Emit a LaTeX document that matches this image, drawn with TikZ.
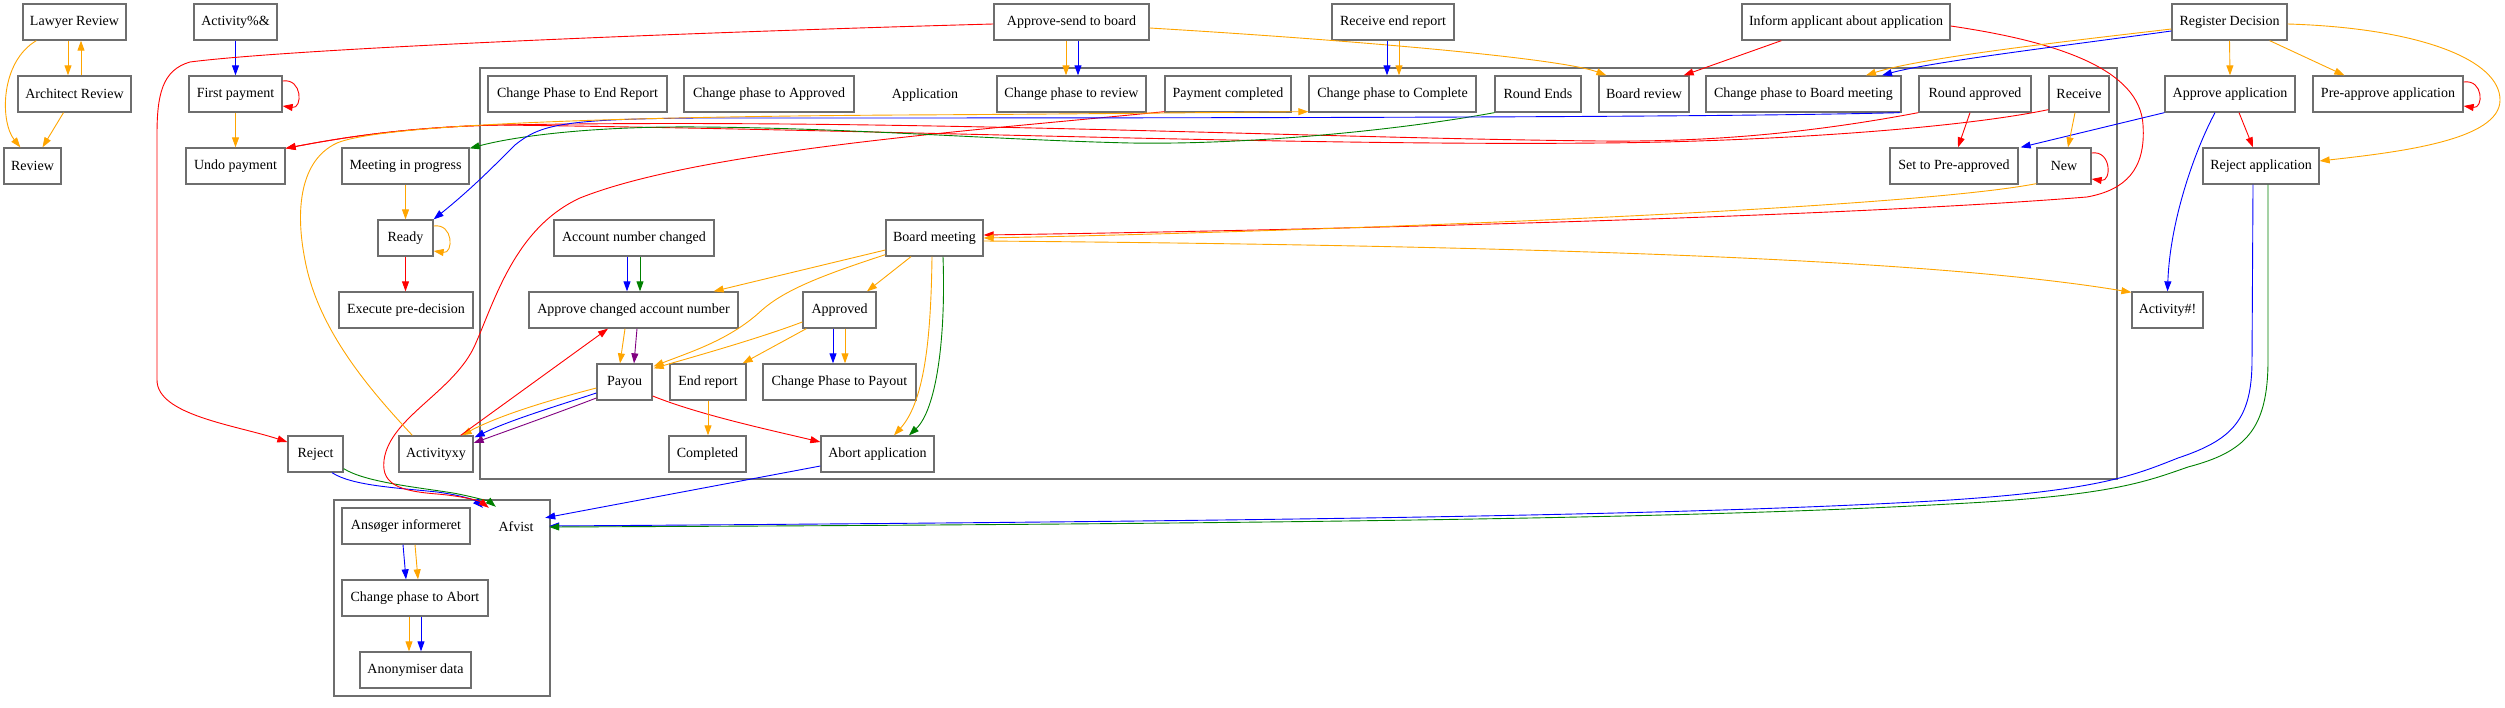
\documentclass[tikz,border=0pt]{standalone}
\usepackage{fontspec}
\setmainfont{Liberation Serif}
\usetikzlibrary{arrows.meta,calc}
\definecolor{cOr}{HTML}{FFA500}
\definecolor{cBl}{HTML}{0000FF}
\definecolor{cRd}{HTML}{FF0000}
\definecolor{cGr}{HTML}{008000}
\definecolor{cPu}{HTML}{800080}
\definecolor{cGy}{HTML}{6E6E6E}
\begin{document}
\begin{tikzpicture}[x=1pt,y=-1pt,
  box/.style={draw=cGy,line width=1.3pt,minimum height=36pt,inner sep=0pt,font=\fontsize{14pt}{16pt}\selectfont},
  lbl/.style={inner sep=0pt,font=\fontsize{14pt}{16pt}\selectfont},
  clus/.style={draw=cGy,line width=1.1pt},
  conn/.style={line width=0.9pt,-{Triangle[length=10pt,width=7pt]}},
  eO/.style={conn,color=cOr},
  eB/.style={conn,color=cBl},
  eR/.style={conn,color=cRd},
  eG/.style={conn,color=cGr},
  eP/.style={conn,color=cPu}]
\useasboundingbox (0,0) rectangle (2505,708);
% clusters
\draw[clus] (480,68) rectangle (2117,479);
\draw[clus] (334,500) rectangle (550,696);
% outer nodes
\node[box,minimum width=103pt] (lawyer) at (74.5,22) {Lawyer Review};
\node[box,minimum width=113pt] (architect) at (74.5,94) {Architect Review};
\node[box,minimum width=57pt] (review) at (32.5,166) {Review};
\node[box,minimum width=83pt] (actpct) at (235.5,22) {Activity\%\&};
\node[box,minimum width=93pt] (firstpay) at (235.5,94) {First payment};
\node[box,minimum width=99pt] (undopay) at (235.5,166) {Undo payment};
\node[box,minimum width=127pt] (meeting) at (405.5,166) {Meeting in progress};
\node[box,minimum width=55pt] (ready) at (405.5,238) {Ready};
\node[box,minimum width=134pt] (execpre) at (406,310) {Execute pre-decision};
\node[box,minimum width=55pt] (reject) at (315.5,454) {Reject};
\node[box,minimum width=74pt] (activityxy) at (436,454) {Activityxy};
\node[box,minimum width=155pt] (sendboard) at (1071.5,22) {Approve-send to board};
\node[box,minimum width=122pt] (recvend) at (1393,22) {Receive end report};
\node[box,minimum width=208pt] (inform) at (1846,22) {Inform applicant about application};
\node[box,minimum width=115pt] (register) at (2229.5,22) {Register Decision};
\node[box,minimum width=130pt] (approveapp) at (2230,94) {Approve application};
\node[box,minimum width=150pt] (preapprove) at (2388,94) {Pre-approve application};
\node[box,minimum width=116pt] (rejectapp) at (2261,166) {Reject application};
\node[box,minimum width=71pt] (acthash) at (2167.5,310) {Activity\#!};
% Application cluster
\node[lbl] (applabel) at (925,95) {Application};
\node[box,minimum width=179pt] (cpend) at (577.5,94) {Change Phase to End Report};
\node[box,minimum width=170pt] (cpapproved) at (769,94) {Change phase to Approved};
\node[box,minimum width=149pt] (cpreview) at (1071.5,94) {Change phase to review};
\node[box,minimum width=126pt] (paycomp) at (1228,94) {Payment completed};
\node[box,minimum width=167pt] (cpcomplete) at (1392.5,94) {Change phase to Complete};
\node[box,minimum width=86pt] (roundends) at (1538,94) {Round Ends};
\node[box,minimum width=90pt] (boardreview) at (1644,94) {Board review};
\node[box,minimum width=195pt] (cpboard) at (1803.5,94) {Change phase to Board meeting};
\node[box,minimum width=112pt] (roundapp) at (1975,94) {Round approved};
\node[box,minimum width=60pt] (receive) at (2079,94) {Receive};
\node[box,minimum width=128pt] (setpre) at (1954,166) {Set to Pre-approved};
\node[box,minimum width=54pt] (new) at (2064,166) {New};
\node[box,minimum width=160pt] (accchanged) at (634,238) {Account number changed};
\node[box,minimum width=97pt] (boardmeeting) at (934.5,238) {Board meeting};
\node[box,minimum width=209pt] (approvechanged) at (633.5,310) {Approve changed account number};
\node[box,minimum width=73pt] (approved) at (839.5,310) {Approved};
\node[box,minimum width=55pt] (payou) at (624.5,382) {Payou};
\node[box,minimum width=76pt] (endreport) at (708,382) {End report};
\node[box,minimum width=153pt] (cppayout) at (839.5,382) {Change Phase to Payout};
\node[box,minimum width=77pt] (completed) at (707.5,454) {Completed};
\node[box,minimum width=113pt] (abort) at (877.5,454) {Abort application};
% Afvist cluster
\node[lbl,minimum width=54pt,minimum height=36pt] (afvist) at (516,527) {Afvist};
\node[box,minimum width=128pt] (ansoger) at (406,526) {Ansøger informeret};
\node[box,minimum width=146pt] (cpabort) at (415,598) {Change phase to Abort};
\node[box,minimum width=111pt] (anonym) at (415.5,670) {Anonymiser data};

% ---- edges: left group
\draw[eO] ($(lawyer.south west)+(14,0)$) .. controls (0,62) and (0,122) .. ($(review.north west)+(17,0)$);
\draw[eO] ($(lawyer.south)+(-6.5,0)$) -- ($(architect.north)+(-6.5,0)$);
\draw[eO] ($(architect.north)+(6.5,0)$) -- ($(lawyer.south)+(6.5,0)$);
\draw[eO] ($(architect.south)+(-11,0)$) -- ($(review.north)+(10,0)$);
\draw[eB] (actpct.south) -- (firstpay.north);
\draw[eR] ($(firstpay.east)+(0,-13)$) .. controls +(20,-3) and +(20,3) .. ($(firstpay.east)+(0,12)$);
\draw[eO] (firstpay.south) -- (undopay.north);
% Approve-send to board
\draw[eR] ($(sendboard.west)+(0,2)$) .. controls (700,32) and (300,48) .. (190,62) .. controls (162,70) and (157,95) .. (157,135) -- (157,380) .. controls (157,415) and (235,425) .. ($(reject.west)+(0,-12)$);
\draw[eO] ($(sendboard.south)+(-5.5,0)$) -- ($(cpreview.north)+(-5.5,0)$);
\draw[eB] ($(sendboard.south)+(6.5,0)$) -- ($(cpreview.north)+(6.5,0)$);
\draw[eO] ($(sendboard.east)+(0,6)$) .. controls (1350,40) and (1560,58) .. ($(boardreview.north west)+(8,0)$);
% Receive end report
\draw[eB] ($(recvend.south)+(-6,0)$) -- ($(cpcomplete.north)+(-5.5,0)$);
\draw[eO] ($(recvend.south)+(6,0)$) -- ($(cpcomplete.north)+(6.5,0)$);
% Inform applicant
\draw[eR] ($(inform.south west)+(40,0)$) -- ($(boardreview.north east)+(-6,0)$);
\draw[eR] ($(inform.east)+(0,4)$) .. controls (2060,42) and (2140,70) .. (2143,125) .. controls (2146,170) and (2125,190) .. (2087,197) .. controls (1800,220) and (1200,232) .. ($(boardmeeting.east)+(0,-3)$);
% Register Decision
\draw[eO] ($(register.west)+(0,7)$) .. controls (2060,42) and (1920,58) .. ($(cpboard.north)+(62.5,0)$);
\draw[eB] ($(register.west)+(0,9)$) .. controls (2070,45) and (1930,62) .. ($(cpboard.north)+(78.5,0)$);
\draw[eO] (register.south) -- (approveapp.north);
\draw[eO] ($(register.south east)+(-18,0)$) -- ($(preapprove.north west)+(32,0)$);
\draw[eO] ($(register.east)+(0,2)$) .. controls (2420,28) and (2500,60) .. (2500,100) .. controls (2500,140) and (2400,152) .. ($(rejectapp.east)+(0,-5)$);
\draw[eR] ($(preapprove.east)+(0,-12)$) .. controls +(20,-3) and +(20,3) .. ($(preapprove.east)+(0,12)$);
% Approve application
\draw[eB] (approveapp.south west) -- ($(setpre.north east)+(2,0)$);
\draw[eR] ($(approveapp.south)+(9,0)$) -- ($(rejectapp.north)+(-8,0)$);
\draw[eB] ($(approveapp.south)+(-15,0)$) .. controls (2195,150) and (2170,220) .. (acthash.north);
% Reject application -> Afvist
\draw[eB] ($(rejectapp.south)+(-8,0)$) -- (2252,360) .. controls (2252,420) and (2232,440) .. (2178,458) .. controls (2135,475) and (2100,490) .. (1950,500) .. controls (1700,515) and (1300,521) .. ($(afvist.east)+(6,-1)$);
\draw[eG] ($(rejectapp.south)+(7,0)$) -- (2268,360) .. controls (2268,430) and (2245,452) .. (2188,467) .. controls (2145,482) and (2110,496) .. (1950,504) .. controls (1700,518) and (1300,524) .. ($(afvist.east)+(6,0)$);
\draw[eB] ($(abort.west)+(0,12)$) -- ($(afvist.north east)+(2,9)$);
% Reject -> Afvist
\draw[eB] ($(reject.south)+(16.5,0)$) .. controls (352,486) and (400,488) .. (437,492) .. controls (460,495) and (475,500) .. ($(afvist.north west)+(-6,-1)$);
\draw[eG] ($(reject.south east)+(0,-4)$) .. controls (365,482) and (415,487) .. (453,493) .. controls (475,497) and (490,502) .. ($(afvist.north west)+(7,-2)$);
% Payment completed -> Afvist
\draw[eR] ($(paycomp.south west)+(0,-1)$) .. controls (980,130) and (700,150) .. (580,198) .. controls (515,228) and (495,300) .. (475,345) .. controls (455,390) and (395,415) .. (385,455) .. controls (378,485) and (400,491) .. (437,494) .. controls (462,496) and (480,501) .. ($(afvist.north west)+(0,-1)$);
% long red edges to Undo payment
\draw[eR] (roundapp.south west) .. controls (1800,135) and (1700,142) .. (1600,141) .. controls (1300,138) and (900,118) .. (500,125) .. controls (400,127) and (330,140) .. ($(undopay.north east)+(0,1)$);
\draw[eR] ($(receive.south west)+(0,-3)$) .. controls (1950,130) and (1750,142) .. (1600,143) .. controls (1300,146) and (900,130) .. (500,125) .. controls (400,127) and (330,140) .. ($(undopay.north east)+(0,1)$);
% Round Ends -> Meeting in progress
\draw[eG] (roundends.south west) .. controls (1400,130) and (1250,145) .. (1130,143) .. controls (1000,140) and (850,128) .. (700,127) .. controls (600,126) and (520,135) .. ($(meeting.north east)+(0,1)$);
% Change phase to Board meeting -> Ready
\draw[eB] ($(cpboard.south east)+(-2,0)$) .. controls (1700,118) and (1100,118) .. (700,118) .. controls (560,119) and (540,125) .. (515,145) .. controls (490,170) and (470,190) .. (ready.north east);
% Activityxy -> Change phase to Complete
\draw[eO] ($(activityxy.north west)+(14,0)$) .. controls (370,390) and (318,330) .. (305,260) .. controls (295,210) and (300,160) .. (337,143) .. controls (380,125) and (600,117) .. (900,115) .. controls (1100,114) and (1250,112) .. ($(cpcomplete.south west)+(0,-1)$);
% Ready / meeting
\draw[eO] (meeting.south) -- (ready.north);
\draw[eO] ($(ready.east)+(0,-12)$) .. controls +(20,-3) and +(20,3) .. ($(ready.east)+(0,13)$);
\draw[eR] (ready.south) -- (ready.south |- execpre.north);
% Receive / Round approved / New
\draw[eO] ($(receive.south)+(-4,0)$) -- ($(new.north)+(4,0)$);
\draw[eR] ($(roundapp.south)+(-5,0)$) -- ($(setpre.north)+(4,0)$);
\draw[eR] ($(new.east)+(0,-13)$) .. controls +(20,-3) and +(20,3) .. ($(new.east)+(0,13)$);
\draw[eO] ($(new.south west)+(0,-1)$) .. controls (1900,210) and (1300,232) .. (boardmeeting.east);
% Board meeting
\draw[eO] ($(boardmeeting.east)+(0,3)$) .. controls (1600,246) and (1950,262) .. ($(acthash.north west)+(0,1)$);
\draw[eO] ($(boardmeeting.west)+(0,12)$) -- ($(approvechanged.north east)+(-25,0)$);
\draw[eO] ($(boardmeeting.south west)+(0,-2)$) .. controls (820,276) and (785,290) .. (762,310) .. controls (730,340) and (690,352) .. ($(payou.north east)+(1,3)$);
\draw[eO] ($(boardmeeting.south)+(-23.5,0)$) -- ($(approved.north)+(27.5,0)$);
\draw[eO] ($(boardmeeting.south)+(-2.5,0)$) .. controls (931,330) and (926,400) .. ($(abort.north)+(16.5,0)$);
\draw[eG] ($(boardmeeting.south)+(8.5,0)$) .. controls (946,340) and (936,410) .. ($(abort.north)+(31.5,0)$);
% Account number changed
\draw[eB] ($(accchanged.south)+(-7,0)$) -- ($(approvechanged.north)+(-6.5,0)$);
\draw[eG] ($(accchanged.south)+(6,0)$) -- ($(approvechanged.north)+(6.5,0)$);
% Approve changed account number -> Payou
\draw[eO] ($(approvechanged.south)+(-8.5,0)$) -- ($(payou.north)+(-4.5,0)$);
\draw[eP] ($(approvechanged.south)+(3.5,0)$) -- ($(payou.north)+(9.5,0)$);
% Approved
\draw[eO] ($(approved.west)+(0,12)$) .. controls (760,338) and (700,355) .. ($(payou.north east)+(1,5)$);
\draw[eO] ($(approved.south west)+(4,0)$) -- ($(endreport.north east)+(-4,0)$);
\draw[eB] ($(approved.south)+(-6.5,0)$) -- ($(cppayout.north)+(-6.5,0)$);
\draw[eO] ($(approved.south)+(5.5,0)$) -- ($(cppayout.north)+(5.5,0)$);
% Payou
\draw[eO] ($(payou.west)+(0,6)$) .. controls (550,400) and (500,415) .. ($(activityxy.north east)+(-12,0)$);
\draw[eB] ($(payou.west)+(0,11)$) .. controls (560,405) and (510,420) .. ($(activityxy.north east)+(1,2)$);
\draw[eP] ($(payou.west)+(0,16)$) .. controls (560,412) and (515,428) .. ($(activityxy.east)+(0,-11)$);
\draw[eR] ($(payou.east)+(0,14)$) .. controls (700,415) and (770,430) .. ($(abort.west)+(0,-12)$);
\draw[eO] (endreport.south) -- (endreport.south |- completed.north);
\draw[eR] ($(activityxy.north east)+(-13,0)$) -- ($(approvechanged.south)+(-25.5,0)$);
% Afvist cluster internal
\draw[eB] ($(ansoger.south)+(-3,0)$) -- ($(cpabort.north)+(-9,0)$);
\draw[eO] ($(ansoger.south)+(9,0)$) -- ($(cpabort.north)+(3,0)$);
\draw[eO] ($(cpabort.south)+(-6,0)$) -- ($(anonym.north)+(-6.5,0)$);
\draw[eB] ($(cpabort.south)+(6,0)$) -- ($(anonym.north)+(5.5,0)$);
\end{tikzpicture}
\end{document}
